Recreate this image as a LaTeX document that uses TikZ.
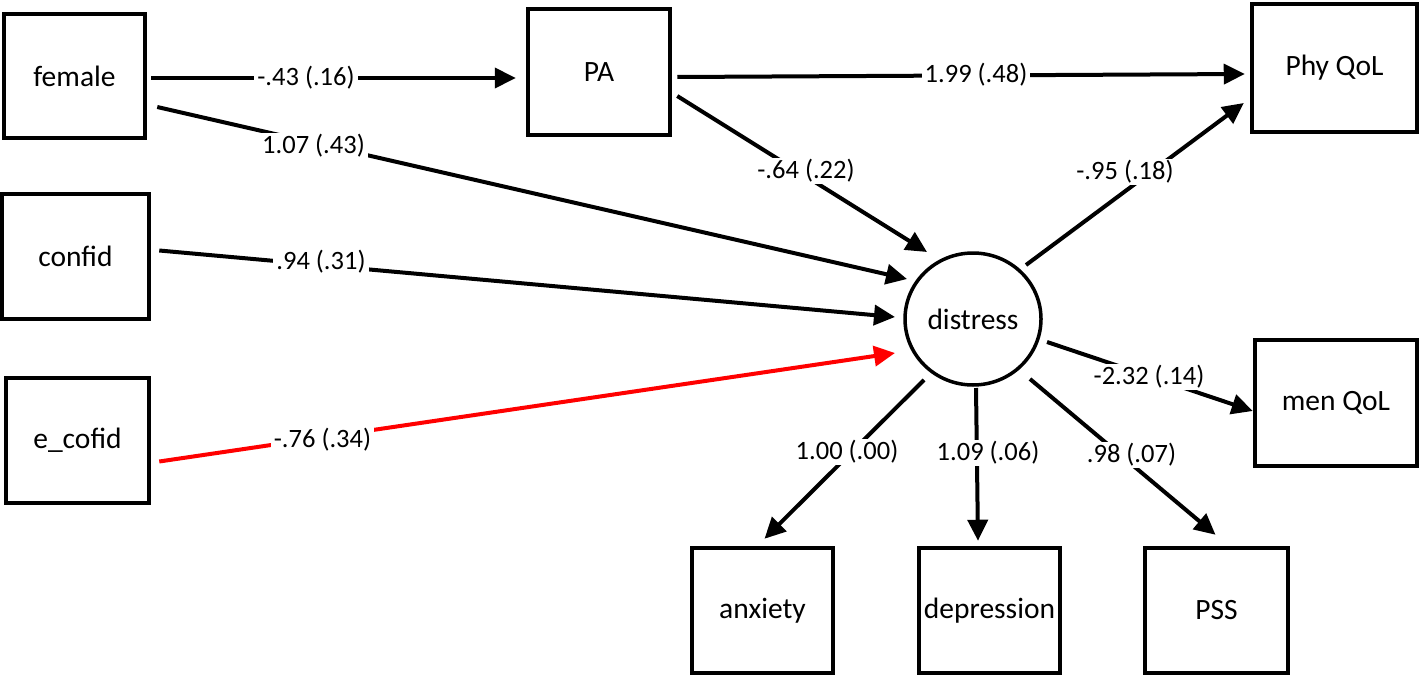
\documentclass[tikz,border=0pt]{standalone}
\usepackage{fontspec}
\setmainfont{Carlito}
\usetikzlibrary{arrows.meta,calc,shapes.geometric}
\begin{document}
\begin{tikzpicture}[x=1pt,y=-1pt,
 box/.style={draw, line width=4.5pt, inner sep=0pt, font=\fontsize{29.5}{34}\selectfont},
 latent/.style={draw, ellipse, line width=3.5pt, inner sep=0pt, minimum width=136pt, minimum height=132pt, font=\fontsize{29.5}{34}\selectfont},
 arr/.style={line width=4pt, -{Triangle[length=21pt,width=20pt]}},
 lbl/.style={fill=white, inner xsep=3pt, inner ysep=1pt, font=\fontsize{26.5}{30}\selectfont}]
\useasboundingbox (0,0) rectangle (1421,677);
\fill[white] (0,0) rectangle (1421,677);

% nodes
\node[box, minimum width=141pt, minimum height=124pt] (female) at (74.5,76) {female};
\node[box, minimum width=147pt, minimum height=125pt] (confid) at (75.5,256.5) {confid};
\node[box, minimum width=143pt, minimum height=125pt] (ecofid) at (77.5,440.5) {e\_cofid};
\node[box, minimum width=142pt, minimum height=126pt] (PA) at (599,72) {PA};
\node[box, minimum width=165pt, minimum height=128pt] (phy) at (1334.5,68) {Phy QoL};
\node[box, minimum width=162pt, minimum height=126pt] (men) at (1336,403) {men QoL};
\node[box, minimum width=141pt, minimum height=125pt] (anx) at (762.5,610.5) {anxiety};
\node[box, minimum width=141pt, minimum height=125pt] (dep) at (989.5,610.5) {depression};
\node[box, minimum width=143pt, minimum height=125pt] (pss) at (1216.5,610.5) {PSS};
\node[latent] (distress) at (973,319) {distress};

% connectors
\draw[arr] ($(female.east)+(4,2)$) -- ($(PA.west)+(-10,6)$);
\draw[arr] ($(female.east)+(10,31)$) -- ($(distress)+(-66,-40)$);
\draw[arr] ($(confid.east)+(8,-6)$) -- ($(distress)+(-78,-2)$);
\draw[arr, red] ($(ecofid.east)+(8,21)$) -- ($(distress)+(-78,34)$);
\draw[arr] ($(PA.east)+(5,5)$) -- ($(phy.west)+(-5,6)$);
\draw[arr] ($(PA.east)+(5,24)$) -- ($(distress)+(-46,-67)$);
\draw[arr] ($(distress)+(53,-54)$) -- ($(phy.west)+(-6,35)$);
\draw[arr] ($(distress)+(74,23)$) -- ($(men.west)+(0,8)$);
\draw[arr] ($(distress)+(-49,61)$) -- ($(anx.north)+(2,-7)$);
\draw[arr] ($(distress)+(3,69)$) -- ($(dep.north)+(-11.5,-5)$);
\draw[arr] ($(distress)+(57,60)$) -- ($(pss.north)+(-1,-11)$);

% labels
\node[lbl] (l1) at (306,78) {-.43 (.16)};
\node[lbl] (l2) at (313.5,146) {1.07 (.43)};
\node[lbl] (l3) at (321,262) {.94 (.31)};
\node[lbl] (l4) at (322.5,440) {-.76 (.34)};
\node[lbl] (l5) at (976,75) {1.99 (.48)};
\node[lbl] (l6) at (806,171) {-.64 (.22)};
\node[lbl] (l7) at (1125,172) {-.95 (.18)};
\node[lbl] (l8) at (1149,377) {-2.32 (.14)};
\node[lbl] (l9) at (847,452) {1.00 (.00)};
\node[lbl] (l10) at (988,453) {1.09 (.06)};
\node[lbl] (l11) at (1131.5,455) {.98 (.07)};
\end{tikzpicture}
\end{document}
